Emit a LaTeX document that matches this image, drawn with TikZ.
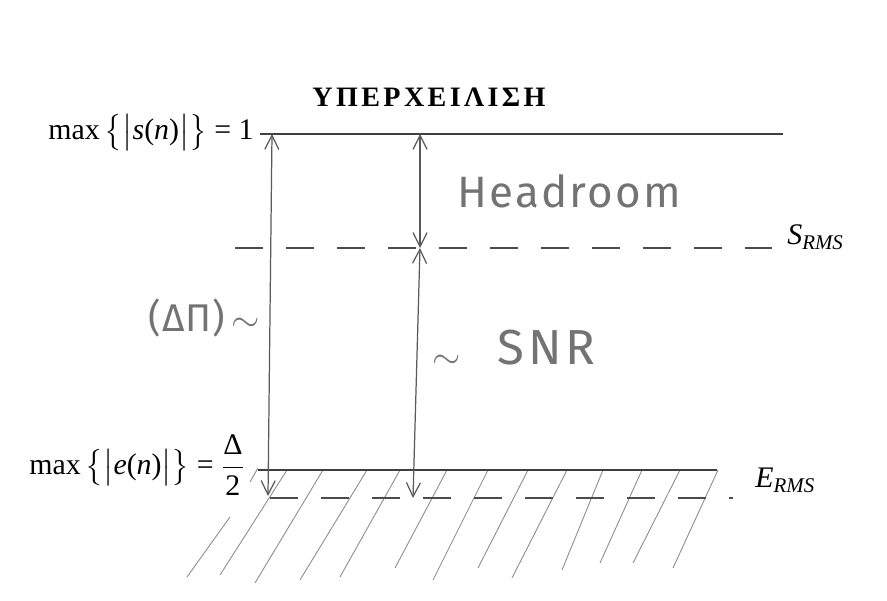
\documentclass[tikz,border=0pt]{standalone}
\usepackage{amsmath}
\usepackage{fontspec}
\setmainfont{Liberation Serif}
\newfontfamily\handfont{Fira Sans}
\usepackage{tikz}
\usetikzlibrary{arrows.meta}

\begin{document}
\begin{tikzpicture}[x=0.02cm, y=-0.02cm, >={Straight Barb[length=8pt,width=8pt]},
    level/.style={draw=black!75, line width=0.9pt},
    rms/.style={draw=black!70, line width=0.8pt, dash pattern=on 16pt off 13pt},
    hatch/.style={draw=black!45, line width=0.5pt},
    dim/.style={<->, draw=black!65, line width=0.7pt},
    lbl/.style={inner sep=0pt, font=\fontsize{17}{19}\selectfont},
    hand/.style={inner sep=0pt, text=black!55}]
    \useasboundingbox (0,0) rectangle (887,601);

    \node[inner sep=0pt, anchor=base, font=\bfseries\fontsize{16}{18}\selectfont\addfontfeatures{LetterSpace=12}] (title) at (429,107) {ΥΠΕΡΧΕΙΛΙΣΗ};

    % levels
    \coordinate (top-a) at (260,134);
    \coordinate (top-b) at (783,134);
    \coordinate (srms-a) at (235,248);
    \coordinate (srms-b) at (772,248);
    \coordinate (erms-a) at (258,470);
    \coordinate (erms-b) at (717,470);
    \coordinate (floor-a) at (270,498);
    \coordinate (floor-b) at (733,498);

    % hatching below the noise level
    \foreach \xa/\ya/\xb/\yb in {187/577/230/517, 250/482/258/468, 220/575/287/470, 255/583/323/470,
        300/580/367/470, 340/577/400/470, 395/568/447/470, 433/580/488/470, 478/568/528/470,
        512/578/567/470, 562/570/603/470, 600/563/642/470, 633/563/680/470, 673/568/718/470}
        \draw[hatch] (\xa,\ya) -- (\xb,\yb);

    \draw[level] (top-a) -- (top-b);
    \draw[rms] (srms-a) -- (srms-b);
    \draw[level] (erms-a) -- (erms-b);
    \draw[rms] (floor-a) -- (floor-b);

    \node[lbl, anchor=base east] (smax) at (254,140) {max\,$\bigl\{\bigl|$\textit{s}(\textit{n})$\bigr|\bigr\}$ = 1};
    \node[lbl, anchor=base east] (emax) at (245,475) {max\,$\bigl\{\bigl|$\textit{e}(\textit{n})$\bigr|\bigr\}$ = $\dfrac{\text{Δ}}{\text{2}}$};
    \node[lbl, anchor=base west] (srms) at (787,245) {\textit{S}\textsubscript{\textit{RMS}}};
    \node[lbl, anchor=base west] (erms) at (755,488) {\textit{E}\textsubscript{\textit{RMS}}};

    % dimension arrows
    \coordinate (l-top) at (272,134);
    \coordinate (l-bot) at (268,496);
    \coordinate (m-top) at (420,134);
    \coordinate (m-mid) at (420,248);
    \coordinate (m-bot) at (413,498);
    \draw[dim] (l-top) -- (l-bot);
    \draw[dim] (m-top) -- (m-mid);
    \draw[dim] (m-mid) -- (m-bot);

    \node[hand, anchor=base west, font=\handfont\fontsize{25}{27}\selectfont\addfontfeatures{LetterSpace=5}] (headroom) at (457,208) {Headroom};
    \node[hand, anchor=base west, font=\handfont\fontsize{28}{30}\selectfont\addfontfeatures{LetterSpace=8}] (snr) at (497,365) {SNR};
    \node[hand, font=\fontsize{22}{24}\selectfont] (tsnr) at (447,362) {$\sim$};
    \node[hand, anchor=west, font=\handfont\fontsize{22}{24}\selectfont\addfontfeatures{LetterSpace=3}] (dp) at (148,318) {(ΔΠ)\,$\sim$};
\end{tikzpicture}
\end{document}
